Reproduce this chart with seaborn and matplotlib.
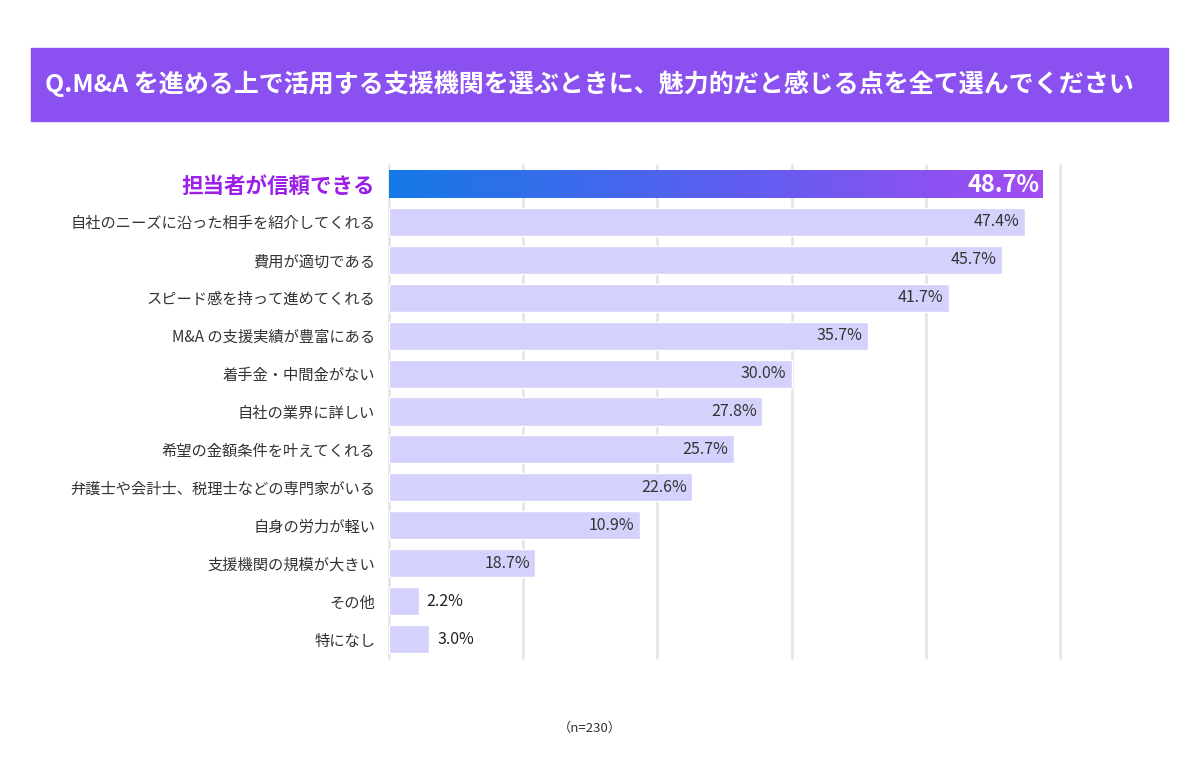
import numpy as np
import matplotlib
matplotlib.use('Agg')
import matplotlib.pyplot as plt
import matplotlib.colors as mcolors
from matplotlib.patches import Rectangle
import seaborn as sns

categories = ['担当者が信頼できる', '自社のニーズに沿った相手を紹介してくれる', '費用が適切である',
              'スピード感を持って進めてくれる', 'M&A の支援実績が豊富にある', '着手金・中間金がない',
              '自社の業界に詳しい', '希望の金額条件を叶えてくれる', '弁護士や会計士、税理士などの専門家がいる',
              '自身の労力が軽い', '支援機関の規模が大きい', 'その他', '特になし']
# bar lengths as drawn in the picture
values = [48.7, 47.4, 45.7, 41.7, 35.7, 30.0, 27.8, 25.7, 22.6, 18.7, 10.9, 2.2, 3.0]
# value texts as printed in the picture
value_labels = ['48.7%', '47.4%', '45.7%', '41.7%', '35.7%', '30.0%', '27.8%', '25.7%',
                '22.6%', '10.9%', '18.7%', '2.2%', '3.0%']
x_ticks = [0, 10, 20, 30, 40, 50]

sns.set_theme(style='white')
plt.rcParams['font.family'] = ['Noto Sans CJK JP', 'DejaVu Sans']

fig = plt.figure(figsize=(12, 7.72), dpi=100)
ax = fig.add_axes([389 / 1200, 1 - 658 / 772, (1060 - 389) / 1200, (658 - 165) / 772])

sns.barplot(x=values, y=categories, color='#D4D2FC', orient='h', width=0.74,
            saturation=1, ax=ax, zorder=2)

ax.set_xlim(0, 50)
ax.set_ylim(len(categories) - 0.5, -0.5)
for t in x_ticks:
    ax.axvline(t, color='#E3E3E3', lw=1.8, zorder=1, clip_on=False)
for s in ax.spines.values():
    s.set_visible(False)
ax.set_xticks([])
ax.set_xlabel('')
ax.set_ylabel('')
ax.tick_params(axis='y', length=0, pad=10)

for i, lab in enumerate(ax.get_yticklabels()):
    if i == 0:
        lab.set_fontsize(15.5)
        lab.set_fontweight('bold')
        lab.set_color('#9B1FE8')
    else:
        lab.set_fontsize(11)
        lab.set_color('#333333')

# gradient on the top bar
top = ax.patches[0]
x0, y0 = top.get_x(), top.get_y()
w, h = top.get_width(), top.get_height()
top.set_alpha(0)
cmap = mcolors.LinearSegmentedColormap.from_list('grad', ['#1479E6', '#5A5FF0', '#A34CF2'])
img = ax.imshow(np.linspace(0, 1, 256).reshape(1, -1), cmap=cmap, aspect='auto',
                extent=[x0, x0 + w, y0 + h, y0], zorder=3)
clip = Rectangle((x0, y0), w, h, transform=ax.transData)
img.set_clip_path(clip)
ax.set_xlim(0, 50)
ax.set_ylim(len(categories) - 0.5, -0.5)

for i, (v, txt) in enumerate(zip(values, value_labels)):
    if i == 0:
        ax.text(v - 0.2, i + 0.03, txt, ha='right', va='center', fontsize=17,
                fontweight='bold', color='white', zorder=4)
    elif v > 8:
        ax.text(v - 0.4, i, txt, ha='right', va='center', fontsize=11.5,
                color='#333333', zorder=4)
    else:
        ax.text(v + 0.6, i, txt, ha='left', va='center', fontsize=11.5,
                color='#222222', zorder=4)

# title banner
fig.patches.append(Rectangle((31 / 1200, 1 - 121 / 772), (1168 - 31) / 1200, 73 / 772,
                             transform=fig.transFigure, color='#8B50F0', zorder=0))
fig.text(45 / 1200, 1 - 84 / 772,
         'Q.M&A を進める上で活用する支援機関を選ぶときに、魅力的だと感じる点を全て選んでください',
         ha='left', va='center', fontsize=18, fontweight='bold', color='white')

fig.text(590 / 1200, 1 - 728 / 772, '（n=230）', ha='center', va='center',
         fontsize=9.5, color='#333333')

fig.savefig('out.png', dpi=100)
